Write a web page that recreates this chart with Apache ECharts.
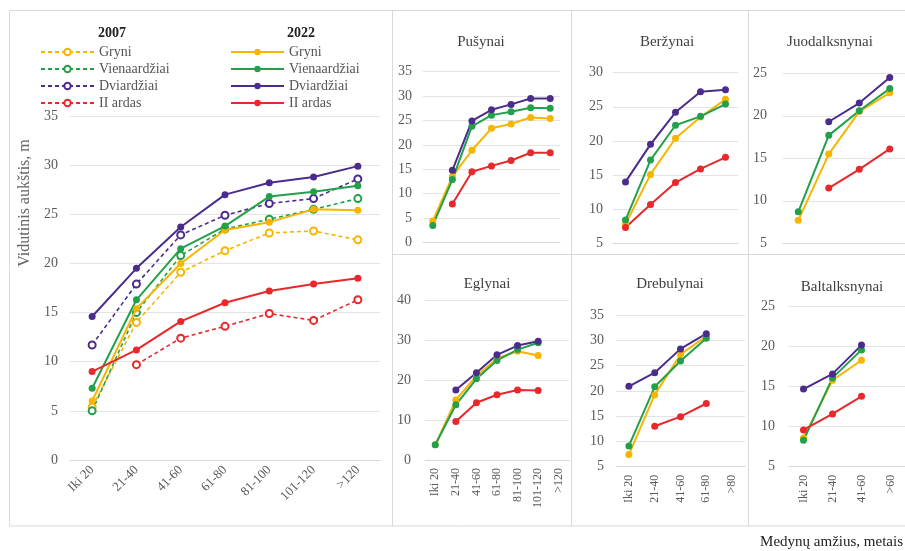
<!DOCTYPE html>
<html><head><meta charset="utf-8">
<script src="https://cdn.jsdelivr.net/npm/echarts@6/dist/echarts.min.js"></script>
<style>html,body{margin:0;padding:0;background:#fff}#c{width:905px;height:551px}</style>
</head><body><div id="c"></div>
<script>
// ---- categories ----
const cats7 = ['Iki 20','21-40','41-60','61-80','81-100','101-120','>120'];
const cats5 = ['Iki 20','21-40','41-60','61-80','>80'];
const cats4 = ['Iki 20','21-40','41-60','>60'];
const groups = ['Gryni','Vienaardžiai','Dviardžiai','II ardas'];

// ---- main chart (all stands) ----
const main2007Gryni = [5.4, 14.0, 19.1, 21.3, 23.1, 23.3, 22.4];
const main2007Vien  = [5.0, 15.0, 20.8, 23.5, 24.5, 25.5, 26.6];
const main2007Dvi   = [11.7, 17.9, 22.9, 24.9, 26.1, 26.6, 28.6];
const main2007II    = [null, 9.7, 12.4, 13.6, 14.9, 14.2, 16.3];
const main2022Gryni = [6.0, 15.4, 20.0, 23.4, 24.2, 25.5, 25.4];
const main2022Vien  = [7.3, 16.3, 21.5, 23.8, 26.8, 27.3, 27.9];
const main2022Dvi   = [14.6, 19.5, 23.7, 27.0, 28.2, 28.8, 29.9];
const main2022II    = [9.0, 11.2, 14.1, 16.0, 17.2, 17.9, 18.5];

// ---- Pušynai ----
const pusGryni = [4.4, 13.5, 18.9, 23.4, 24.3, 25.6, 25.4];
const pusVien  = [3.5, 12.9, 23.8, 26.1, 26.8, 27.6, 27.5];
const pusDvi   = [null, 14.8, 24.9, 27.2, 28.3, 29.5, 29.5];
const pusII    = [null, 7.9, 14.5, 15.7, 16.8, 18.4, 18.4];
// ---- Beržynai ----
const berGryni = [7.8, 15.1, 20.4, 23.5, 26.1];
const berVien  = [8.4, 17.2, 22.3, 23.6, 25.4];
const berDvi   = [14.0, 19.5, 24.2, 27.2, 27.5];
const berII    = [7.3, 10.7, 13.9, 15.9, 17.6];
// ---- Juodalksnynai ----
const juoGryni = [7.7, 15.5, 20.5, 22.7];
const juoVien  = [8.7, 17.7, 20.6, 23.2];
const juoDvi   = [null, 19.3, 21.5, 24.5];
const juoII    = [null, 11.5, 13.7, 16.1];
// ---- Eglynai ----
const eglGryni = [3.8, 15.0, 21.0, 25.4, 27.2, 26.1, null];
const eglVien  = [3.8, 13.8, 20.3, 24.9, 27.6, 29.3, null];
const eglDvi   = [null, 17.5, 21.8, 26.3, 28.6, 29.7, null];
const eglII    = [null, 9.6, 14.3, 16.3, 17.5, 17.4, null];
// ---- Drebulynai ----
const dreGryni = [7.4, 19.2, 27.2, 30.8, null];
const dreVien  = [9.1, 20.8, 25.9, 30.4, null];
const dreDvi   = [20.9, 23.6, 28.3, 31.3, null];
const dreII    = [null, 13.0, 14.9, 17.5, null];
// ---- Baltalksnynai ----
const balGryni = [8.6, 15.8, 18.3, null];
const balVien  = [8.3, 16.1, 19.6, null];
const balDvi   = [14.7, 16.6, 20.2, null];
const balII    = [9.6, 11.6, 13.8, null];

// ---- y tick settings ----
const mainY = {min: 0, max: 35, interval: 5};
const pusY = {min: 0, max: 35, interval: 5};
const berY = {min: 5, max: 30, interval: 5};
const juoY = {min: 5, max: 25, interval: 5};
const eglY = {min: 0, max: 40, interval: 10};
const dreY = {min: 5, max: 35, interval: 5};
const balY = {min: 5, max: 25, interval: 5};

const colors = ['#F7B500', '#22A04B', '#4B2C8C', '#E8282B'];
const FONT = 'Liberation Serif';
const gridLine = '#e3e3e3';
const labelColor = '#5a5a5a';

const grids = [
  {left: 70, top: 116, width: 310, height: 344},
  {left: 423, top: 71.7, width: 137, height: 170.8},
  {left: 613, top: 72.7, width: 125, height: 170.6},
  {left: 783, top: 73.3, width: 122, height: 170},
  {left: 425, top: 300, width: 144, height: 160},
  {left: 616, top: 315, width: 129, height: 151.7},
  {left: 789, top: 306.7, width: 127, height: 160}
];
const panelCats = [cats7, cats7, cats5, cats4, cats7, cats5, cats4];
const panelY = [mainY, pusY, berY, juoY, eglY, dreY, balY];
const yMargins = [12, 11, 10, 16, 14, 12, 14];

const xAxes = panelCats.map((c, i) => ({
  type: 'category', gridIndex: i, data: c, boundaryGap: true,
  axisLine: {show: true, lineStyle: {color: '#d6d6d6', width: 1}},
  axisTick: {show: false},
  axisLabel: {
    show: i === 0 || i >= 4, interval: 0,
    rotate: i === 0 ? 45 : 90,
    fontFamily: FONT, fontSize: i === 0 ? 13 : 12, color: labelColor,
    margin: 8
  },
  splitLine: {show: false}
}));
const yAxes = panelY.map((y, i) => ({
  type: 'value', gridIndex: i, min: y.min, max: y.max, interval: y.interval,
  axisLine: {show: false}, axisTick: {show: false},
  axisLabel: {fontFamily: FONT, fontSize: 14, color: labelColor, margin: yMargins[i]},
  splitLine: {lineStyle: {color: gridLine, width: 1}}
}));

function lineSeries(name, data, ci, gi, dashed) {
  return {
    name: name, type: 'line', xAxisIndex: gi, yAxisIndex: gi, data: data,
    color: colors[ci],
    symbol: dashed ? 'emptyCircle' : 'circle', symbolSize: 7,
    lineStyle: {color: colors[ci], width: dashed ? 1.6 : 2, type: dashed ? [4, 3] : 'solid'},
    itemStyle: {color: colors[ci], borderColor: colors[ci], borderWidth: dashed ? 1.5 : 0},
    connectNulls: false, animation: false, z: dashed ? 2 : 3
  };
}

const series = [];
[main2007Gryni, main2007Vien, main2007Dvi, main2007II].forEach((d, k) =>
  series.push(lineSeries('2007 ' + groups[k], d, k, 0, true)));
[main2022Gryni, main2022Vien, main2022Dvi, main2022II].forEach((d, k) =>
  series.push(lineSeries('2022 ' + groups[k], d, k, 0, false)));
const panels = [
  ['Pušynai', [pusGryni, pusVien, pusDvi, pusII]],
  ['Beržynai', [berGryni, berVien, berDvi, berII]],
  ['Juodalksnynai', [juoGryni, juoVien, juoDvi, juoII]],
  ['Eglynai', [eglGryni, eglVien, eglDvi, eglII]],
  ['Drebulynai', [dreGryni, dreVien, dreDvi, dreII]],
  ['Baltalksnynai', [balGryni, balVien, balDvi, balII]]
];
panels.forEach((p, pi) => {
  p[1].forEach((d, k) => series.push(lineSeries(p[0] + ' ' + groups[k], d, k, pi + 1, false)));
});

const titlePos = [[481, 42], [667, 42], [830, 42], [487, 284], [670, 284], [842, 287]];
const graphics = [];
const bc = '#d9d9d9';
graphics.push({type: 'rect', shape: {x: 9.5, y: 10.5, width: 900, height: 515.5}, style: {fill: null, stroke: bc, lineWidth: 1}, silent: true});
[392.5, 571.5, 748.5].forEach(x => graphics.push({type: 'line', shape: {x1: x, y1: 10, x2: x, y2: 526}, style: {stroke: bc, lineWidth: 1}, silent: true}));
graphics.push({type: 'line', shape: {x1: 392, y1: 254.5, x2: 905, y2: 254.5}, style: {stroke: bc, lineWidth: 1}, silent: true});
panels.forEach((p, pi) => graphics.push({
  type: 'text', x: titlePos[pi][0], y: titlePos[pi][1],
  style: {text: p[0], font: '15px "Liberation Serif"', fill: '#404040', align: 'center', verticalAlign: 'middle'}
}));
graphics.push({type: 'text', x: 112, y: 33, style: {text: '2007', font: 'bold 14px "Liberation Serif"', fill: '#222', align: 'center', verticalAlign: 'middle'}});
graphics.push({type: 'text', x: 301, y: 33, style: {text: '2022', font: 'bold 14px "Liberation Serif"', fill: '#222', align: 'center', verticalAlign: 'middle'}});
graphics.push({type: 'text', x: 25, y: 203, rotation: Math.PI / 2,
  style: {text: 'Vidutinis aukštis, m', font: '16px "Liberation Serif"', fill: '#666', align: 'center', verticalAlign: 'middle'}});
graphics.push({type: 'text', x: 903, y: 542,
  style: {text: 'Medynų amžius, metais', font: '15px "Liberation Serif"', fill: '#222', align: 'right', verticalAlign: 'middle'}});

const legendCommon = {
  orient: 'vertical', itemWidth: 53, itemHeight: 8, itemGap: 3,
  textStyle: {fontFamily: FONT, fontSize: 14, color: '#555'},
  formatter: n => n.slice(5), selectedMode: false
};
const option = {
  animation: false,
  grid: grids,
  xAxis: xAxes,
  yAxis: yAxes,
  series: series,
  legend: [
    Object.assign({left: 35, top: 40, data: groups.map(g => '2007 ' + g)}, legendCommon),
    Object.assign({left: 225, top: 40, data: groups.map(g => '2022 ' + g)}, legendCommon)
  ],
  graphic: graphics
};
const chart = echarts.init(document.getElementById('c'), null, {renderer: 'canvas'});
chart.setOption(option);
</script></body></html>
